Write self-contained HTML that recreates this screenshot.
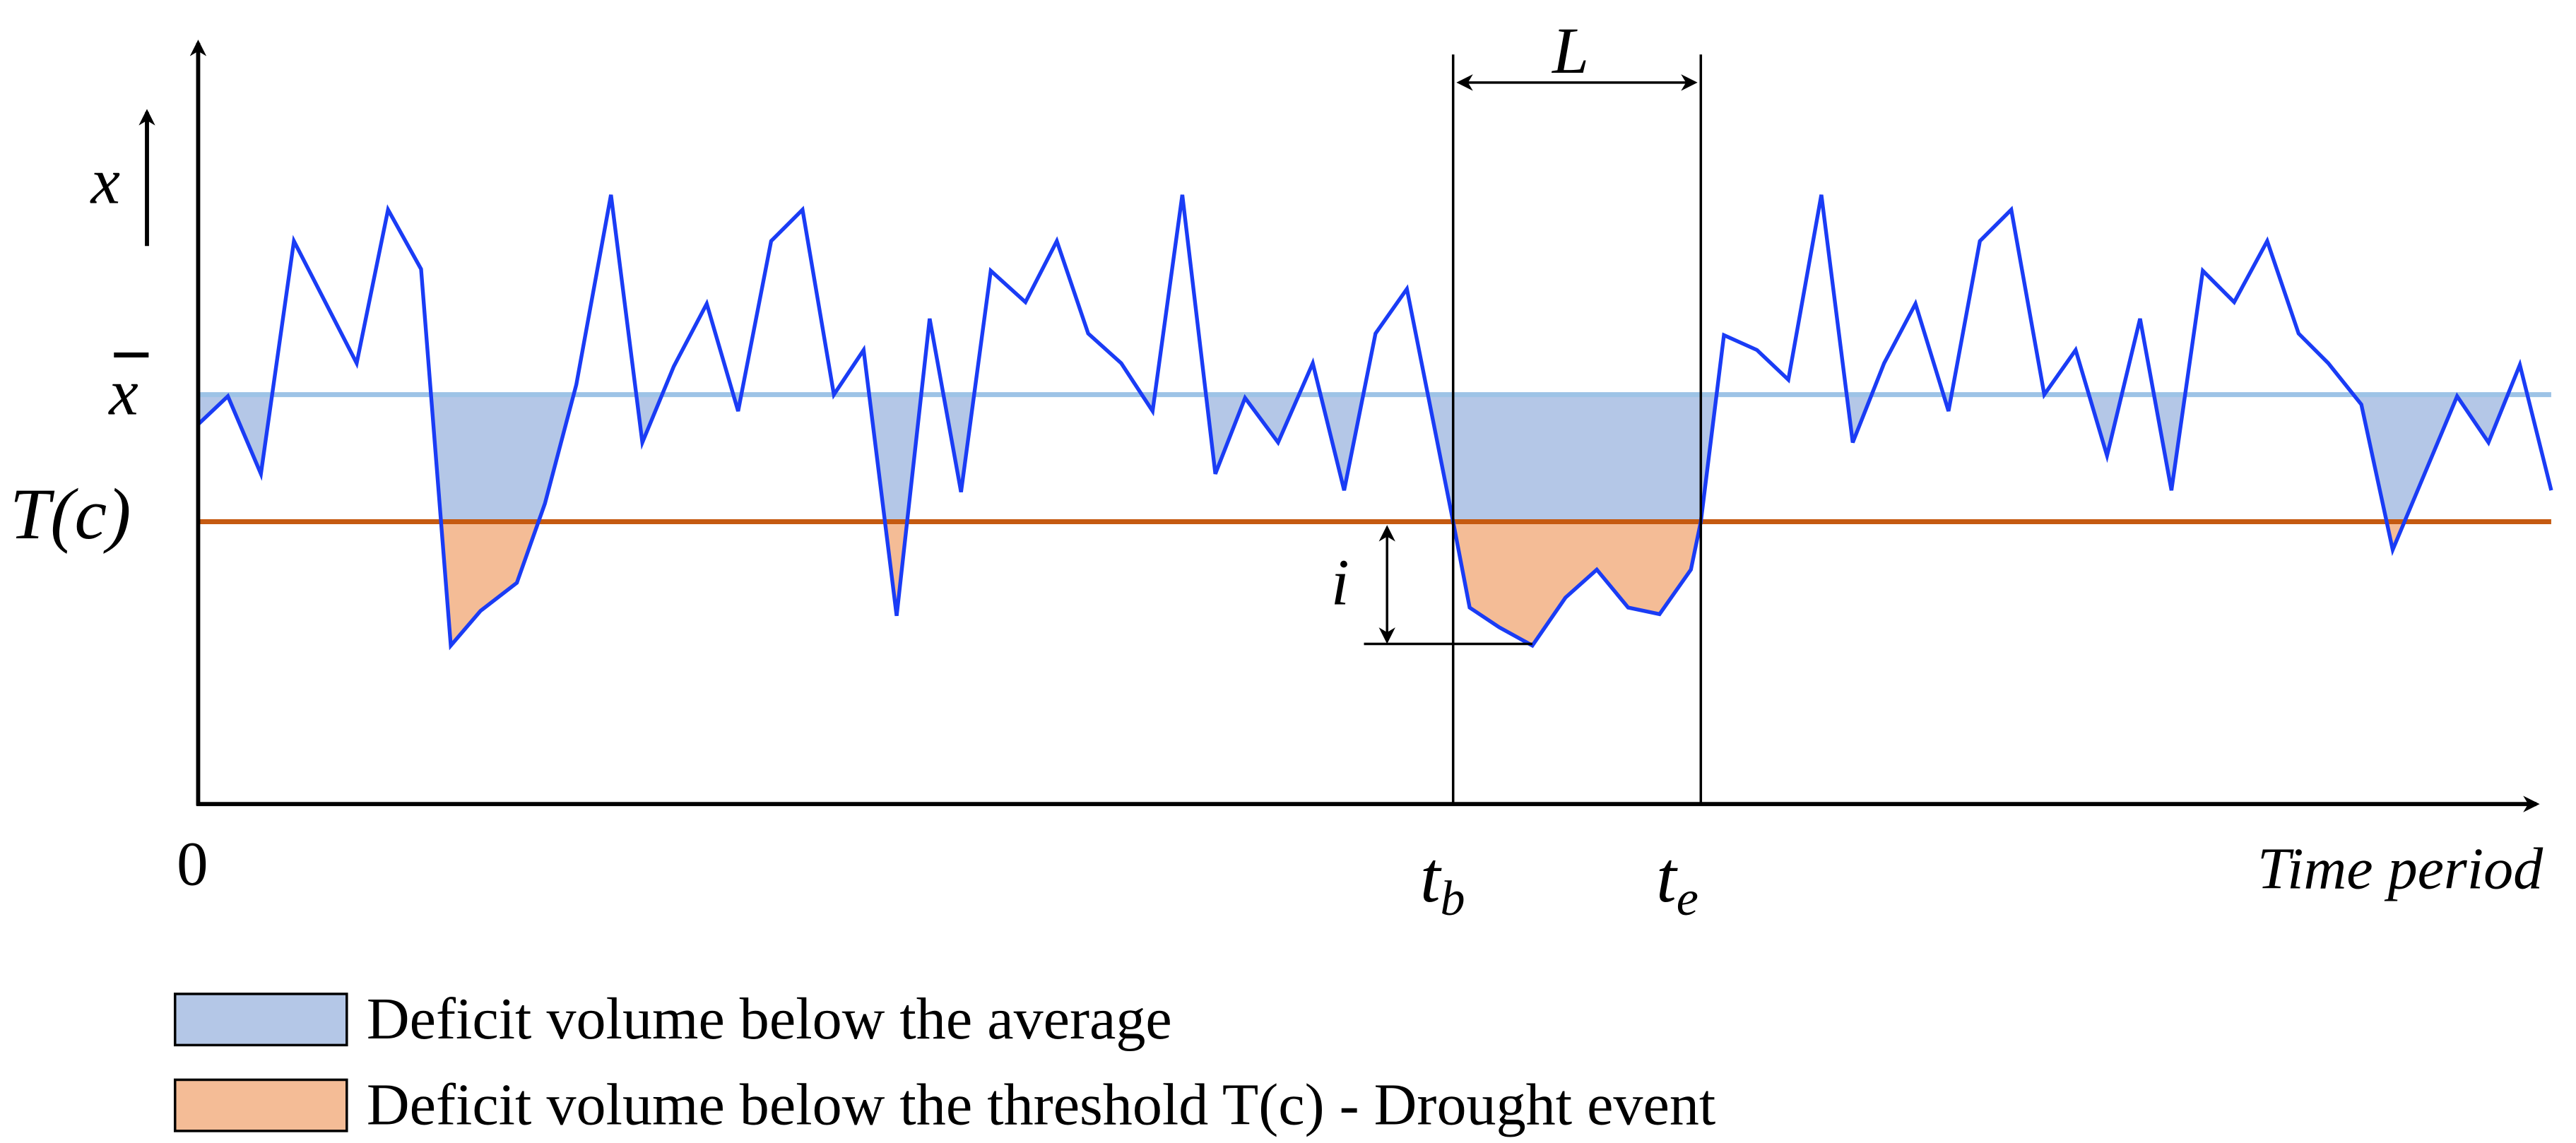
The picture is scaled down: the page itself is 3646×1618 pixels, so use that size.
<!DOCTYPE html>
<html><head><meta charset="utf-8"><style>
html,body{margin:0;padding:0;background:#fff;}
svg{display:block;}
text{font-family:"Liberation Serif",serif;fill:#000;}
</style></head><body>
<svg width="3646" height="1618" viewBox="0 0 1560 692.3" preserveAspectRatio="none" xmlns="http://www.w3.org/2000/svg">
<defs>
<clipPath id="clipBlue"><rect id="cb" x="0" y="0" width="1560" height="0"/></clipPath>
<clipPath id="clipOrange"><rect id="co" x="0" y="0" width="1560" height="0"/></clipPath>
<marker id="ah" markerWidth="10" markerHeight="10" refX="8" refY="5" orient="auto-start-reverse" markerUnits="userSpaceOnUse"><path d="M0,0 L10,5 L0,10 L3,5 Z" fill="#000"/></marker>
</defs>
<g id="fills"></g>
<line id="meanLine" stroke="#9dc3e6" stroke-width="3"/>
<line id="thrLine" stroke="#c55a11" stroke-width="3"/>
<polyline id="series" fill="none" stroke="#1a3cf5" stroke-width="2.3" stroke-linejoin="miter"/>
<line x1="120" y1="488" x2="120" y2="26" stroke="#000" stroke-width="2.5" marker-end="url(#ah)"/>
<line x1="119" y1="487" x2="1536" y2="487" stroke="#000" stroke-width="2.5" marker-end="url(#ah)"/>
<line x1="89" y1="149" x2="89" y2="68" stroke="#000" stroke-width="2.5" marker-end="url(#ah)"/>
<text x="55" y="123" font-size="40" font-style="italic">x</text>
<line x1="69" y1="215" x2="90" y2="215" stroke="#000" stroke-width="3"/>
<text x="66" y="251" font-size="40" font-style="italic">x</text>
<text x="6" y="326" font-size="44" font-style="italic">T(c)</text>
<text x="107" y="536" font-size="38">0</text>
<line x1="880" y1="33" x2="880" y2="487" stroke="#000" stroke-width="1.5"/>
<line x1="1030" y1="33" x2="1030" y2="487" stroke="#000" stroke-width="1.5"/>
<line x1="884" y1="50" x2="1026" y2="50" stroke="#000" stroke-width="1.5" marker-start="url(#ah)" marker-end="url(#ah)"/>
<text x="940" y="44" font-size="40" font-style="italic">L</text>
<line x1="840" y1="320" x2="840" y2="388" stroke="#000" stroke-width="1.5" marker-start="url(#ah)" marker-end="url(#ah)"/>
<line x1="826" y1="390" x2="928" y2="390" stroke="#000" stroke-width="1.5"/>
<text x="806" y="366" font-size="40" font-style="italic">i</text>
<text x="860" y="546" font-size="44" font-style="italic">t<tspan font-size="30" dy="8">b</tspan></text>
<text x="1003" y="546" font-size="44" font-style="italic">t<tspan font-size="30" dy="8">e</tspan></text>
<text x="1540" y="538" font-size="36" font-style="italic" text-anchor="end">Time period</text>
<rect x="106" y="602" width="104" height="31" fill="#b4c7e7" stroke="#000" stroke-width="1.5"/>
<text x="222" y="629" font-size="36">Deficit volume below the average</text>
<rect x="106" y="654" width="104" height="31" fill="#f4bc96" stroke="#000" stroke-width="1.5"/>
<text x="222" y="681" font-size="36">Deficit volume below the threshold T(c) - Drought event</text>
</svg>
<script>
const times=[0,18,38,58,96,115,135,153,171,193,210,229,250,269,288,308,327,347,366,385,403,423,443,462,480,501,520,539,559,578,596,616,634,654,675,694,713,732,760,770,788,808,828,847,866,885,904,910,924,944,963,983,1002,1021,1040,1060,1079,1098,1118,1137,1156,1176,1195,1214,1233,1253,1272,1290,1310,1329,1368,1387,1406,1425];
const values=[230,247,200,341,267,360,324,96,117,134,182,254,369,219,265,303,238,341,360,248,275,114,294,189,323,304,341,285,267,238,369,200,246,219,267,190,285,312,171,119,107,96,125,142,119,115,142,171,284,275,257,369,219,267,303,238,341,360,248,275,211,294,190,323,304,341,285,267,242,154,247,219,266,190];
const meanValue=248;
const thresholdValue=171;
const X0=120, Y0=487;
const xS=t=>X0+t;
const yS=v=>Y0-v;
const pts=times.map((t,i)=>xS(t)+','+yS(values[i]));
document.getElementById('series').setAttribute('points',pts.join(' '));
const ym=yS(meanValue), yt=yS(thresholdValue);
const ml=document.getElementById('meanLine');
ml.setAttribute('x1',120);ml.setAttribute('x2',1545);ml.setAttribute('y1',ym);ml.setAttribute('y2',ym);
const tl=document.getElementById('thrLine');
tl.setAttribute('x1',120);tl.setAttribute('x2',1545);tl.setAttribute('y1',yt);tl.setAttribute('y2',yt);
const cb=document.getElementById('cb');cb.setAttribute('y',ym);cb.setAttribute('height',yt-ym);
const co=document.getElementById('co');co.setAttribute('y',yt);co.setAttribute('height',700-yt);
let lastAbove=values.length-1;
while(lastAbove>0 && values[lastAbove]<meanValue) lastAbove--;
const fp=pts.slice(0,lastAbove+1);
const poly=fp.join(' ')+' '+xS(times[lastAbove])+','+ym+' '+xS(times[0])+','+ym;
const g=document.getElementById('fills');
const pb=document.createElementNS('http://www.w3.org/2000/svg','polygon');


pb.setAttribute('points',poly);pb.setAttribute('fill','#b4c7e7');pb.setAttribute('clip-path','url(#clipBlue)');
g.appendChild(pb);
const po=document.createElementNS('http://www.w3.org/2000/svg','polygon');


po.setAttribute('points',poly);po.setAttribute('fill','#f4bc96');po.setAttribute('clip-path','url(#clipOrange)');
g.appendChild(po);
</script>
</body></html>
